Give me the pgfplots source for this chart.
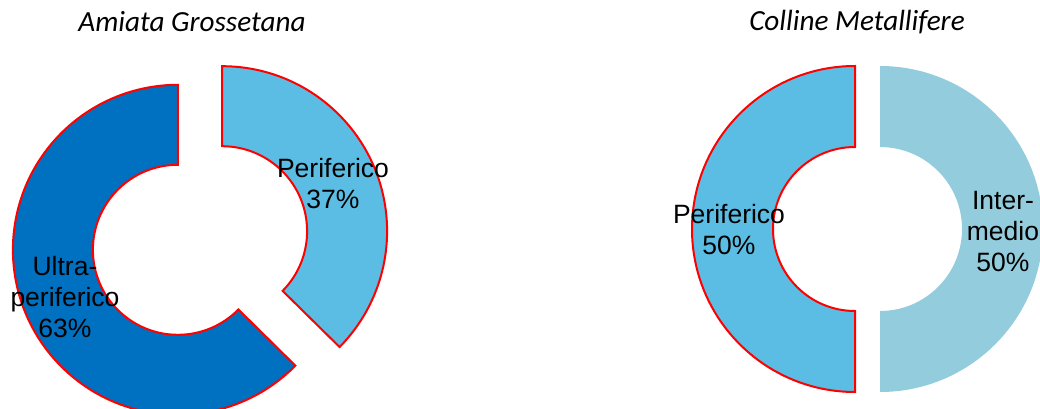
\documentclass[border=0pt]{standalone}
\usepackage{pgfplots}
\pgfplotsset{compat=1.18}
\usetikzlibrary{calc}
\usepackage{fontspec}
\setmainfont{Liberation Sans}
\newfontfamily\titlefont{Carlito}
\definecolor{darkblue}{HTML}{0070C0}
\definecolor{lightblue}{HTML}{5BBDE3}
\definecolor{paleblue}{HTML}{93CDDD}
\begin{document}
\begin{tikzpicture}
% Shares: Amiata Grossetana: Periferico 37.4 (shown 37%), Ultra-periferico 62.6 (shown 63%)
%         Colline Metallifere: Intermedio 50, Periferico 50
\begin{axis}[x=0.5pt, y=0.5pt, xmin=0, xmax=1040, ymin=0, ymax=408,
  hide axis, clip=true, scale only axis]
% --- Amiata Grossetana (centre 200,167.5; explode 24) ---
% Periferico: 90 -> 90-0.374*360 = -44.6
\filldraw[fill=lightblue, draw=red, line width=1pt, line join=miter]
  ($(axis cs:222.1,176.8)+(90:82.5pt)$) arc[start angle=90, end angle=-44.6, radius=82.5pt]
  -- ($(axis cs:222.1,176.8)+(-44.6:42.5pt)$) arc[start angle=-44.6, end angle=90, radius=42.5pt] -- cycle;
% Ultra-periferico: -44.6 -> -270
\filldraw[fill=darkblue, draw=red, line width=1pt, line join=miter]
  ($(axis cs:177.9,158.2)+(-44.6:82.5pt)$) arc[start angle=-44.6, end angle=-270, radius=82.5pt]
  -- ($(axis cs:177.9,158.2)+(90:42.5pt)$) arc[start angle=-270, end angle=-44.6, radius=42.5pt] -- cycle;
% --- Colline Metallifere (centre 867.5,179; explode 12.5) ---
% Intermedio 50%: 90 -> -90
\fill[paleblue]
  ($(axis cs:880,179)+(90:81.5pt)$) arc[start angle=90, end angle=-90, radius=81.5pt]
  -- ($(axis cs:880,179)+(-90:41pt)$) arc[start angle=-90, end angle=90, radius=41pt] -- cycle;
% Periferico 50%: -90 -> -270
\filldraw[fill=lightblue, draw=red, line width=1pt, line join=miter]
  ($(axis cs:855,179)+(-90:81.5pt)$) arc[start angle=-90, end angle=-270, radius=81.5pt]
  -- ($(axis cs:855,179)+(90:41pt)$) arc[start angle=-270, end angle=-90, radius=41pt] -- cycle;
% labels
\node[align=center, font=\fontsize{13.25}{15.5}\selectfont] at (axis cs:333,224) {Periferico\\37\%};
\node[align=center, font=\fontsize{13.25}{15.5}\selectfont] at (axis cs:65,111) {Ultra-\\periferico\\63\%};
\node[align=center, font=\fontsize{13.25}{15.5}\selectfont] at (axis cs:729,178) {Periferico\\50\%};
\node[align=center, font=\fontsize{13.25}{15.5}\selectfont] at (axis cs:1003,176) {Inter-\\medio\\50\%};
% titles
\node[font=\titlefont\itshape\fontsize{14.6}{17}\selectfont] at (axis cs:192,386) {Amiata Grossetana};
\node[font=\titlefont\itshape\fontsize{14.6}{17}\selectfont] at (axis cs:857,386) {Colline Metallifere};
\end{axis}
\pgfresetboundingbox
\path (0,0) rectangle (520pt,204pt);
\end{tikzpicture}
\end{document}
